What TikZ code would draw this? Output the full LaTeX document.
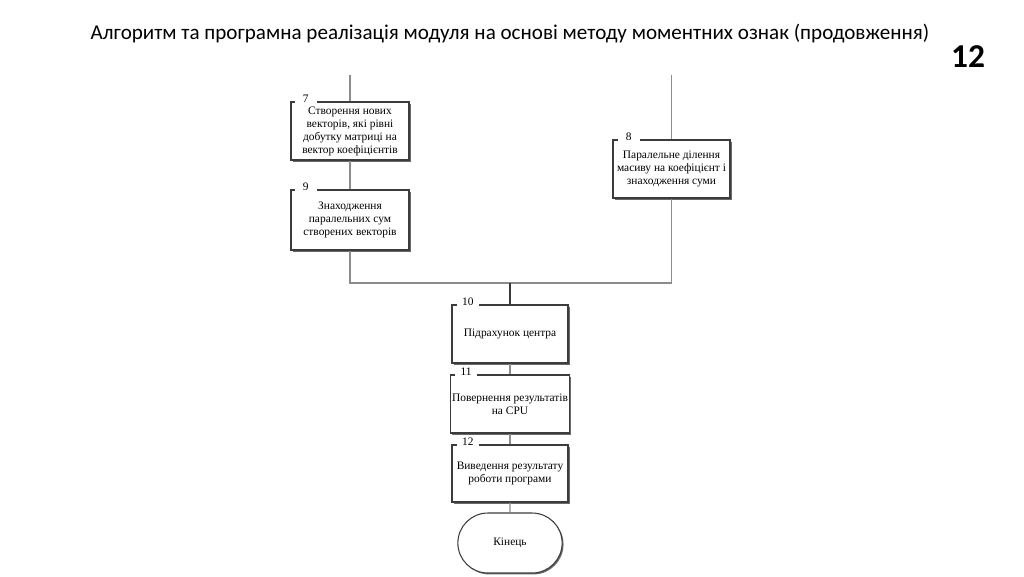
\documentclass[tikz,border=0pt]{standalone}
\usepackage{fontspec}
\setmainfont{Liberation Serif}
\newfontfamily\titlefont{Carlito}
\usetikzlibrary{shapes.misc,shadows}
\definecolor{wire}{HTML}{8C8C8C}
\definecolor{wiredark}{HTML}{3A3A3A}
\definecolor{frame}{HTML}{3C3C3C}
\definecolor{shade}{HTML}{6A6A6A}

\tikzset{
  stepbox/.style={draw=frame, fill=white, line width=0.6pt, minimum width=2.36cm,
    minimum height=1.16cm, inner sep=1pt, align=center,
    font=\fontsize{6.5}{7.4}\selectfont,
    drop shadow={shadow xshift=1pt, shadow yshift=-1pt, fill=shade, opacity=1}},
  numtag/.style={fill=white, inner sep=0pt, minimum width=0.44cm, minimum height=0.2cm,
    anchor=west, font=\fontsize{6.5}{7}\selectfont},
  endbox/.style={rounded rectangle, draw=frame, fill=white, line width=0.6pt,
    minimum width=2.32cm, minimum height=1.2cm, font=\fontsize{6.5}{7.4}\selectfont,
    drop shadow={shadow xshift=0.8pt, shadow yshift=-0.8pt, fill=shade, opacity=1}},
  wireline/.style={draw=wire, line width=0.6pt}
}

\begin{document}
\begin{tikzpicture}[x=0.02cm, y=-0.02cm]
  \useasboundingbox (0,0) rectangle (1024,576);

  % heading
  \node[font=\titlefont\fontsize{12}{14}\selectfont] (title) at (510,34)
    {Алгоритм та програмна реалізація модуля на основі методу моментних ознак (продовження)};
  \node[font=\titlefont\bfseries\fontsize{19}{22}\selectfont] (pagenum) at (968,57) {12};

  % free ends of the incoming lines
  \coordinate (in7) at (350,75);
  \coordinate (in8) at (671.5,75);
  \coordinate (join) at (510,283);

  % blocks
  \node[stepbox] (b7) at (350,131) {Створення нових\\векторів, які рівні\\добутку матриці на\\вектор коефіцієнтів};
  \node[stepbox, minimum height=1.2cm] (b9) at (350,220) {Знаходження\\паралельних сум\\створених векторів};
  \node[stepbox, minimum width=2.34cm] (b8) at (671.5,169) {Паралельне ділення\\масиву на коефіцієнт і\\знаходження суми};
  \node[stepbox, minimum width=2.32cm] (b10) at (510,334) {Підрахунок центра};
  \node[stepbox, minimum width=2.32cm] (b11) at (510,404) {Повернення результатів\\на CPU};
  \node[stepbox, minimum width=2.32cm, minimum height=1.14cm] (b12) at (510,473.5) {Виведення результату\\роботи програми};
  \node[endbox] (stop) at (510,543) {Кінець};

  % connectors
  \draw[wireline] (in7) -- (b7);
  \draw[wireline] (b7) -- (b9);
  \draw[wireline] (in8) -- (b8);
  \draw[wireline] (b9.south) |- (join) -| (b8.south);
  \draw[wiredark, line width=0.8pt] (join) -- (b10);
  \draw[wireline] (b10) -- (b11);
  \draw[wireline] (b11) -- (b12);
  \draw[wireline] (b12) -- (stop);

  % step numbers over the top edges
  \node[numtag] (n7) at ([xshift=0.08cm, yshift=0.05cm]b7.north west) {7};
  \node[numtag] (n9) at ([xshift=0.08cm, yshift=0.05cm]b9.north west) {9};
  \node[numtag] (n8) at ([xshift=0.1cm, yshift=0.05cm]b8.north west) {8};
  \node[numtag] (n10) at ([xshift=0.1cm, yshift=0.05cm]b10.north west) {10};
  \node[numtag] (n11) at ([xshift=0.1cm, yshift=0.05cm]b11.north west) {11};
  \node[numtag] (n12) at ([xshift=0.1cm, yshift=0.05cm]b12.north west) {12};
\end{tikzpicture}
\end{document}
